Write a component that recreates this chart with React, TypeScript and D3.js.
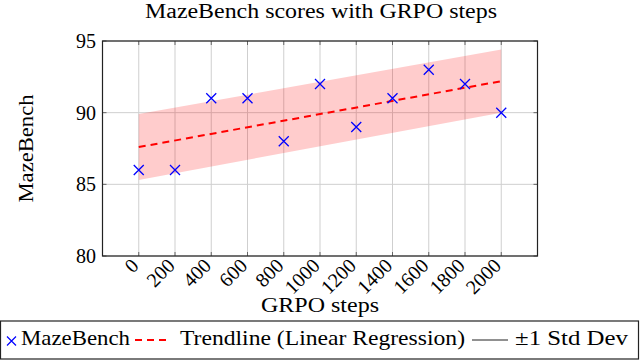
import * as d3 from 'd3';

const width = 640;
const height = 360;
const margin = { top: 41, right: 102.5, bottom: 104, left: 102.5 };
const blue = '#0000ff';
const red = '#ff0000';
const font = '"Liberation Serif", "Times New Roman", serif';

// scores
const steps = [0, 200, 400, 600, 800, 1000, 1200, 1400, 1600, 1800, 2000];
const scores = [86, 86, 91, 91, 88, 92, 89, 91, 93, 92, 90];

// trendline and +-1 std dev band, read at both ends
const trendSteps = [0, 2000];
const trendScores = [87.6, 92.2];
const bandUpper = [89.9, 94.4];
const bandLower = [85.3, 90.0];

const yTicks = [80, 85, 90, 95];

export default function App() {
    const x = d3.scaleLinear().domain([-200, 2200]).range([margin.left, width - margin.right]);
    const y = d3.scaleLinear().domain([80, 95]).range([height - margin.bottom, margin.top]);
    const [x0, x1] = x.range();
    const [y0, y1] = y.range();

    const trend = trendSteps.map((s, i) => ({ s, v: trendScores[i], lo: bandLower[i], hi: bandUpper[i] }));

    const band = d3.area<any>()
        .x(d => x(d.s))
        .y0(d => y(d.lo))
        .y1(d => y(d.hi));
    const line = d3.line<any>()
        .x(d => x(d.s))
        .y(d => y(d.v));

    const cross = (cx: number, cy: number, r: number) =>
        `M${cx - r},${cy - r}L${cx + r},${cy + r}M${cx - r},${cy + r}L${cx + r},${cy - r}`;

    const legendY = 340;

    return (
        <svg width={width} height={height} style={{ position: 'absolute', left: 0, top: 0, background: '#fff', fontFamily: font }}>
            {/* grid */}
            {steps.map(s => (
                <line key={'gx' + s} x1={x(s)} x2={x(s)} y1={y1} y2={y0} stroke="#cfcfcf" strokeWidth={1} />
            ))}
            {yTicks.map(t => (
                <line key={'gy' + t} x1={x0} x2={x1} y1={y(t)} y2={y(t)} stroke="#cfcfcf" strokeWidth={1} />
            ))}
            {/* inner tick marks */}
            {steps.map(s => (
                <g key={'tx' + s} stroke="#666" strokeWidth={1}>
                    <line x1={x(s)} x2={x(s)} y1={y0} y2={y0 - 4} />
                    <line x1={x(s)} x2={x(s)} y1={y1} y2={y1 + 4} />
                </g>
            ))}
            {yTicks.map(t => (
                <g key={'ty' + t} stroke="#666" strokeWidth={1}>
                    <line x1={x0} x2={x0 + 4} y1={y(t)} y2={y(t)} />
                    <line x1={x1} x2={x1 - 4} y1={y(t)} y2={y(t)} />
                </g>
            ))}

            <path d={band(trend) || ''} fill={red} fillOpacity={0.2} stroke="none" />
            <path d={line(trend) || ''} fill="none" stroke={red} strokeWidth={2} strokeDasharray="7,5" />

            {steps.map((s, i) => (
                <path key={'p' + s} d={cross(x(s), y(scores[i]), 5)} stroke={blue} strokeWidth={1.3} fill="none" />
            ))}

            <rect x={x0} y={y1} width={x1 - x0} height={y0 - y1} fill="none" stroke="#222" strokeWidth={1.2} />

            {/* tick labels */}
            {yTicks.map(t => (
                <text key={'ly' + t} x={96} y={y(t)} dy="0.35em" textAnchor="end" fontSize={20}>{t}</text>
            ))}
            {steps.map(s => (
                <text key={'lx' + s} transform={`translate(${x(s) - 4},${y0 + 6}) rotate(-45)`}
                    dy="0.35em" textAnchor="end" fontSize={20}>{s}</text>
            ))}

            {/* titles */}
            <text x={321} y={18} textAnchor="middle" fontSize={20} textLength={352} lengthAdjust="spacingAndGlyphs">
                MazeBench scores with GRPO steps
            </text>
            <text x={320} y={312} textAnchor="middle" fontSize={21} textLength={118} lengthAdjust="spacingAndGlyphs">
                GRPO steps
            </text>
            <text transform={`translate(33,${(y0 + y1) / 2}) rotate(-90)`} textAnchor="middle" fontSize={21}
                textLength={108} lengthAdjust="spacingAndGlyphs">
                MazeBench
            </text>

            {/* legend */}
            <rect x={0.5} y={321} width={638} height={38} fill="#fff" stroke="#222" strokeWidth={1.2} />
            <path d={cross(11.5, 341, 4.5)} stroke={blue} strokeWidth={1.2} fill="none" />
            <text x={21} y={345} fontSize={21} textLength={109} lengthAdjust="spacingAndGlyphs">MazeBench</text>
            <line x1={135} x2={170} y1={legendY} y2={legendY} stroke={red} strokeWidth={2} strokeDasharray="7,5" />
            <text x={180} y={345} fontSize={21} textLength={285} lengthAdjust="spacingAndGlyphs">
                Trendline (Linear Regression)
            </text>
            <line x1={472} x2={508} y1={legendY} y2={legendY} stroke="#222" strokeWidth={1} />
            <text x={515} y={345} fontSize={21} textLength={113} lengthAdjust="spacingAndGlyphs">±1 Std Dev</text>
        </svg>
    );
}
